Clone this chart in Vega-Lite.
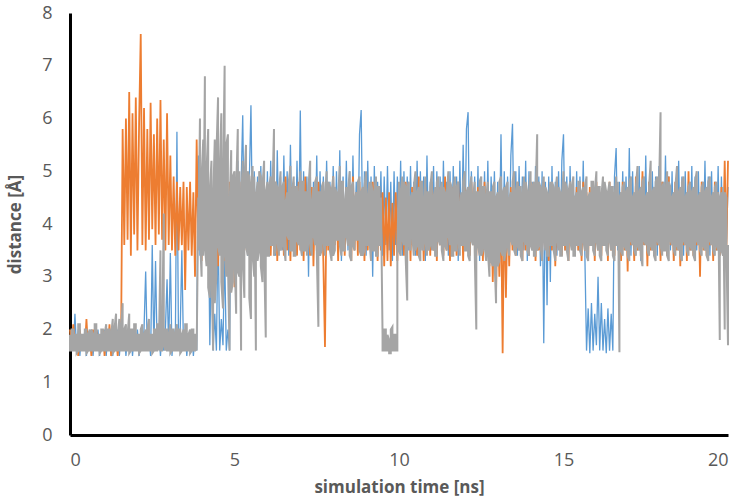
{
"$schema": "https://vega.github.io/schema/vega-lite/v6.json",
"width": 658, "height": 422,
"autosize": {"type": "none"},
"padding": {"left": 70, "top": 13, "right": 15, "bottom": 67},
"config": {"view": {"stroke": null},
 "axis": {"grid": false, "ticks": false, "domainColor": "black", "domainWidth": 3,
  "labelFont": "Open Sans", "labelFontSize": 18, "labelColor": "#595959",
  "titleFont": "Open Sans", "titleFontSize": 17, "titleColor": "#595959", "titleFontWeight": "bold"}},
"data": {"values": [
{"t":0,"b":1.6,"o":2.0,"g":1.9,"h":1.6},{"t":0.05,"b":2.0,"o":1.6,"g":1.6,"h":2.0},{"t":0.1,"b":1.6,"o":2.1,"g":2.0,"h":1.6},{"t":0.15,"b":2.3,"o":1.6,"g":1.6,"h":1.9},
{"t":0.2,"b":1.6,"o":1.9,"g":1.9,"h":1.55},{"t":0.25,"b":2.0,"o":1.5,"g":1.6,"h":2.1},{"t":0.3,"b":1.5,"o":2.0,"g":2.1,"h":1.6},{"t":0.35,"b":1.9,"o":1.6,"g":1.6,"h":1.9},
{"t":0.4,"b":1.6,"o":1.9,"g":1.9,"h":1.6},{"t":0.45,"b":2.0,"o":1.6,"g":1.6,"h":2.0},{"t":0.5,"b":1.5,"o":2.2,"g":2.0,"h":1.55},{"t":0.55,"b":1.9,"o":1.6,"g":1.6,"h":1.9},
{"t":0.6,"b":1.6,"o":1.9,"g":2.0,"h":1.6},{"t":0.65,"b":2.0,"o":1.5,"g":1.6,"h":2.0},{"t":0.7,"b":1.5,"o":2.0,"g":1.9,"h":1.6},{"t":0.75,"b":1.9,"o":1.6,"g":1.6,"h":2.1},
{"t":0.8,"b":1.6,"o":2.0,"g":2.1,"h":1.6},{"t":0.85,"b":2.0,"o":1.6,"g":1.6,"h":1.9},{"t":0.9,"b":1.5,"o":1.9,"g":1.9,"h":1.55},{"t":0.95,"b":1.9,"o":1.6,"g":1.6,"h":2.0},
{"t":1.0,"b":1.6,"o":2.0,"g":2.0,"h":1.6},{"t":1.05,"b":2.0,"o":1.5,"g":1.6,"h":1.9},{"t":1.1,"b":1.5,"o":2.0,"g":2.1,"h":1.6},{"t":1.15,"b":1.9,"o":1.6,"g":1.6,"h":2.0},
{"t":1.2,"b":1.6,"o":2.1,"g":2.0,"h":1.6},{"t":1.25,"b":2.0,"o":1.5,"g":1.6,"h":1.9},{"t":1.3,"b":1.5,"o":2.0,"g":2.2,"h":1.55},{"t":1.35,"b":1.9,"o":1.6,"g":1.6,"h":2.0},
{"t":1.4,"b":1.6,"o":1.9,"g":2.3,"h":1.6},{"t":1.45,"b":2.0,"o":1.5,"g":1.6,"h":1.9},{"t":1.5,"b":1.5,"o":2.0,"g":2.2,"h":1.6},{"t":1.55,"b":1.9,"o":1.6,"g":1.6,"h":2.0},
{"t":1.6,"b":1.6,"o":5.8,"g":2.5,"h":1.6},{"t":1.65,"b":2.0,"o":3.6,"g":1.6,"h":2.0},{"t":1.7,"b":1.5,"o":6.0,"g":2.1,"h":1.6},{"t":1.75,"b":1.9,"o":3.7,"g":1.6,"h":1.9},
{"t":1.8,"b":1.6,"o":6.5,"g":2.3,"h":1.55},{"t":1.85,"b":2.0,"o":3.4,"g":1.6,"h":2.0},{"t":1.9,"b":1.5,"o":6.1,"g":2.0,"h":1.6},{"t":1.95,"b":1.9,"o":3.8,"g":1.6,"h":2.1},
{"t":2.0,"b":1.6,"o":6.4,"g":2.1,"h":1.6},{"t":2.05,"b":2.0,"o":3.5,"g":1.6,"h":1.9},{"t":2.1,"b":1.5,"o":5.9,"g":1.9,"h":1.55},{"t":2.15,"b":1.9,"o":7.6,"g":1.6,"h":2.0},
{"t":2.2,"b":1.6,"o":3.6,"g":2.1,"h":1.6},{"t":2.25,"b":2.0,"o":6.2,"g":1.6,"h":1.9},{"t":2.3,"b":3.1,"o":3.5,"g":2.0,"h":1.6},{"t":2.35,"b":1.6,"o":5.8,"g":1.6,"h":2.0},
{"t":2.4,"b":1.9,"o":3.7,"g":2.2,"h":1.6},{"t":2.45,"b":1.5,"o":6.3,"g":1.6,"h":1.9},{"t":2.5,"b":3.6,"o":3.9,"g":1.9,"h":1.55},{"t":2.55,"b":1.6,"o":5.7,"g":1.6,"h":2.0},
{"t":2.6,"b":3.3,"o":3.6,"g":2.0,"h":1.6},{"t":2.65,"b":1.6,"o":6.0,"g":1.6,"h":2.1},{"t":2.7,"b":2.0,"o":3.8,"g":2.1,"h":1.6},{"t":2.75,"b":1.5,"o":6.35,"g":3.5,"h":1.6},
{"t":2.8,"b":2.0,"o":3.7,"g":1.6,"h":1.9},{"t":2.85,"b":1.6,"o":5.6,"g":4.2,"h":1.7},{"t":2.9,"b":2.0,"o":3.5,"g":1.6,"h":2.0},{"t":2.95,"b":2.95,"o":6.1,"g":2.0,"h":1.6},
{"t":3.0,"b":1.6,"o":3.6,"g":1.6,"h":1.9},{"t":3.05,"b":3.45,"o":5.3,"g":2.1,"h":1.55},{"t":3.1,"b":1.5,"o":3.5,"g":1.6,"h":2.0},{"t":3.15,"b":2.0,"o":4.9,"g":2.0,"h":1.6},
{"t":3.2,"b":1.6,"o":3.4,"g":1.6,"h":1.9},{"t":3.25,"b":5.75,"o":4.8,"g":2.1,"h":1.6},{"t":3.3,"b":1.6,"o":3.5,"g":1.6,"h":2.0},{"t":3.35,"b":2.0,"o":4.7,"g":2.0,"h":1.55},
{"t":3.4,"b":3.5,"o":3.6,"g":1.6,"h":1.9},{"t":3.45,"b":1.6,"o":4.8,"g":2.0,"h":1.6},{"t":3.5,"b":2.0,"o":2.75,"g":1.6,"h":2.1},{"t":3.55,"b":1.5,"o":4.7,"g":2.1,"h":1.6},
{"t":3.6,"b":1.9,"o":3.5,"g":1.6,"h":1.9},{"t":3.65,"b":1.6,"o":4.8,"g":2.0,"h":1.55},{"t":3.7,"b":2.0,"o":3.4,"g":1.6,"h":2.0},{"t":3.75,"b":1.5,"o":4.6,"g":2.0,"h":1.6},
{"t":3.8,"b":1.9,"o":3.0,"g":1.6,"h":1.9},{"t":3.85,"b":1.6,"o":5.6,"g":1.9,"h":1.6},
{"t":3.9,"b":5.3,"o":3.6,"g":4.5,"h":3.5},{"t":3.95,"b":3.4,"o":4.8,"g":6.0,"h":3.8},{"t":4.0,"b":4.8,"o":3.3,"g":3.0,"h":4.9},{"t":4.05,"b":3.5,"o":4.6,"g":5.6,"h":3.4},
{"t":4.1,"b":5.1,"o":3.5,"g":6.8,"h":3.6},{"t":4.15,"b":3.6,"o":4.9,"g":3.2,"h":5.0},{"t":4.2,"b":4.6,"o":3.4,"g":5.8,"h":2.8},{"t":4.25,"b":1.7,"o":4.7,"g":2.6,"h":4.6},
{"t":4.3,"b":3.6,"o":3.3,"g":5.2,"h":3.2},{"t":4.35,"b":1.6,"o":4.5,"g":1.6,"h":4.4},{"t":4.4,"b":2.3,"o":3.6,"g":5.6,"h":2.5},{"t":4.45,"b":1.6,"o":5.0,"g":3.0,"h":5.3},
{"t":4.5,"b":4.0,"o":3.2,"g":6.4,"h":3.6},{"t":4.55,"b":1.6,"o":4.6,"g":3.4,"h":5.0},{"t":4.6,"b":2.2,"o":3.5,"g":6.1,"h":2.9},{"t":4.65,"b":1.7,"o":4.7,"g":2.4,"h":4.7},
{"t":4.7,"b":3.5,"o":3.3,"g":7.0,"h":3.5},{"t":4.75,"b":1.6,"o":4.4,"g":3.0,"h":5.5},{"t":4.8,"b":2.0,"o":3.6,"g":5.7,"h":3.3},{"t":4.85,"b":1.6,"o":4.8,"g":1.6,"h":4.3},
{"t":4.9,"b":5.0,"o":3.4,"g":5.4,"h":2.7},{"t":4.95,"b":3.5,"o":4.6,"g":2.9,"h":4.9},{"t":5.0,"b":4.9,"o":2.8,"g":5.0,"h":3.4},{"t":5.05,"b":3.4,"o":4.5,"g":2.3,"h":4.6},
{"t":5.1,"b":5.2,"o":3.5,"g":5.8,"h":3.1},{"t":5.15,"b":3.6,"o":4.8,"g":3.0,"h":5.0},{"t":5.2,"b":4.7,"o":3.3,"g":1.6,"h":4.4},{"t":5.25,"b":6.06,"o":4.6,"g":5.2,"h":3.3},
{"t":5.3,"b":3.6,"o":3.5,"g":2.6,"h":4.8},{"t":5.35,"b":5.0,"o":4.9,"g":5.5,"h":3.6},{"t":5.4,"b":3.4,"o":3.6,"g":3.4,"h":5.0},{"t":5.45,"b":4.8,"o":4.5,"g":4.9,"h":2.6},
{"t":5.5,"b":6.25,"o":3.4,"g":2.2,"h":4.7},{"t":5.55,"b":3.7,"o":4.7,"g":5.1,"h":3.4},{"t":5.6,"b":5.0,"o":3.5,"g":3.0,"h":4.9},{"t":5.65,"b":3.5,"o":4.6,"g":1.6,"h":4.5},
{"t":5.7,"b":4.9,"o":3.4,"g":4.8,"h":3.3},{"t":5.75,"b":3.6,"o":4.8,"g":3.5,"h":5.0},{"t":5.8,"b":5.1,"o":3.5,"g":4.9,"h":3.2},{"t":5.85,"b":3.4,"o":4.6,"g":2.9,"h":4.7},
{"t":5.9,"b":4.8,"o":3.6,"g":5.2,"h":3.5},{"t":5.95,"b":3.6,"o":4.5,"g":1.85,"h":4.6},{"t":6.0,"b":5.0,"o":3.5,"g":4.8,"h":3.4},
{"t":6.05,"b":3.5,"o":4.7,"g":3.4,"h":4.7},{"t":6.1,"b":5.2,"o":3.4,"g":4.9,"h":3.6},{"t":6.15,"b":3.6,"o":4.5,"g":3.6,"h":4.5},{"t":6.2,"b":5.0,"o":3.5,"g":5.8,"h":3.4},
{"t":6.25,"b":3.4,"o":4.8,"g":3.5,"h":4.8},{"t":6.3,"b":5.4,"o":3.3,"g":4.7,"h":3.7},{"t":6.35,"b":3.7,"o":4.6,"g":3.4,"h":4.6},{"t":6.4,"b":4.9,"o":3.6,"g":5.0,"h":3.5},
{"t":6.45,"b":3.5,"o":4.4,"g":3.6,"h":4.7},{"t":6.5,"b":5.3,"o":3.4,"g":4.8,"h":3.6},{"t":6.55,"b":3.6,"o":4.9,"g":3.3,"h":4.4},{"t":6.6,"b":5.0,"o":3.5,"g":4.6,"h":3.8},
{"t":6.65,"b":3.4,"o":4.6,"g":3.7,"h":4.8},{"t":6.7,"b":5.5,"o":3.3,"g":5.1,"h":3.5},{"t":6.75,"b":3.7,"o":4.7,"g":3.5,"h":4.6},{"t":6.8,"b":4.8,"o":3.6,"g":4.9,"h":3.4},
{"t":6.85,"b":3.5,"o":4.5,"g":3.4,"h":4.7},{"t":6.9,"b":5.2,"o":3.4,"g":4.7,"h":3.7},{"t":6.95,"b":3.6,"o":4.8,"g":3.6,"h":4.5},{"t":7.0,"b":6.15,"o":3.5,"g":5.0,"h":3.6},
{"t":7.05,"b":3.4,"o":4.6,"g":3.4,"h":4.8},{"t":7.1,"b":5.0,"o":3.3,"g":4.8,"h":3.5},{"t":7.15,"b":3.7,"o":4.9,"g":3.5,"h":4.6},{"t":7.2,"b":4.9,"o":3.6,"g":4.6,"h":3.4},
{"t":7.25,"b":3.0,"o":4.5,"g":3.7,"h":4.7},{"t":7.3,"b":5.1,"o":3.4,"g":5.2,"h":3.6},{"t":7.35,"b":3.5,"o":4.7,"g":3.4,"h":4.4},{"t":7.4,"b":4.8,"o":3.2,"g":4.7,"h":3.8},
{"t":7.45,"b":3.6,"o":4.6,"g":3.6,"h":4.8},{"t":7.5,"b":5.3,"o":3.5,"g":4.9,"h":3.5},{"t":7.55,"b":3.4,"o":4.8,"g":2.05,"h":4.6},{"t":7.6,"b":5.0,"o":3.4,"g":4.6,"h":3.4},
{"t":7.65,"b":3.6,"o":4.5,"g":3.5,"h":4.7},{"t":7.7,"b":4.9,"o":3.3,"g":4.8,"h":3.7},{"t":7.75,"b":3.5,"o":1.67,"g":3.4,"h":4.5},{"t":7.8,"b":5.2,"o":4.6,"g":5.0,"h":3.6},
{"t":7.85,"b":3.7,"o":3.5,"g":3.6,"h":4.8},{"t":7.9,"b":4.8,"o":4.7,"g":4.7,"h":3.5},{"t":7.95,"b":3.4,"o":3.4,"g":3.3,"h":4.6},{"t":8.0,"b":5.1,"o":4.9,"g":4.9,"h":3.4},
{"t":8.05,"b":3.6,"o":3.6,"g":3.5,"h":4.7},{"t":8.1,"b":5.0,"o":4.5,"g":4.6,"h":3.7},{"t":8.15,"b":3.5,"o":3.3,"g":3.7,"h":4.5},{"t":8.2,"b":5.4,"o":4.8,"g":5.1,"h":3.6},
{"t":8.25,"b":3.3,"o":3.5,"g":3.4,"h":4.8},{"t":8.3,"b":4.9,"o":4.6,"g":4.8,"h":3.5},{"t":8.35,"b":3.6,"o":3.4,"g":3.5,"h":4.4},{"t":8.4,"b":5.2,"o":4.7,"g":4.7,"h":3.8},
{"t":8.45,"b":3.5,"o":3.6,"g":3.6,"h":4.6},{"t":8.5,"b":5.0,"o":4.4,"g":5.0,"h":3.4},{"t":8.55,"b":3.4,"o":3.3,"g":3.3,"h":4.7},{"t":8.6,"b":5.3,"o":4.9,"g":4.8,"h":3.6},
{"t":8.65,"b":3.7,"o":3.5,"g":3.5,"h":4.5},{"t":8.7,"b":4.8,"o":4.6,"g":4.6,"h":3.7},{"t":8.75,"b":3.5,"o":3.4,"g":3.7,"h":4.8},{"t":8.8,"b":5.7,"o":4.8,"g":4.9,"h":3.5},
{"t":8.85,"b":6.16,"o":3.6,"g":3.4,"h":4.6},{"t":8.9,"b":3.6,"o":4.5,"g":4.7,"h":3.4},{"t":8.95,"b":5.0,"o":3.3,"g":3.5,"h":4.7},{"t":9.0,"b":3.4,"o":4.7,"g":5.0,"h":3.6},
{"t":9.05,"b":5.2,"o":3.5,"g":3.6,"h":4.5},{"t":9.1,"b":3.6,"o":4.6,"g":4.8,"h":3.7},{"t":9.15,"b":4.9,"o":3.4,"g":3.3,"h":4.8},{"t":9.2,"b":3.0,"o":4.8,"g":4.6,"h":3.5},
{"t":9.25,"b":5.1,"o":3.6,"g":3.5,"h":4.6},{"t":9.3,"b":3.5,"o":4.5,"g":4.9,"h":3.4},{"t":9.35,"b":4.8,"o":3.3,"g":3.4,"h":4.7},{"t":9.4,"b":3.7,"o":4.7,"g":4.7,"h":3.6},
{"t":9.45,"b":5.0,"o":3.5,"g":3.6,"h":4.5},{"t":9.5,"b":3.4,"o":4.6,"g":1.9,"h":1.6},{"t":9.55,"b":4.9,"o":3.2,"g":1.6,"h":2.0},{"t":9.6,"b":3.6,"o":4.5,"g":2.0,"h":1.6},
{"t":9.65,"b":5.1,"o":3.3,"g":1.6,"h":1.9},{"t":9.7,"b":3.5,"o":4.6,"g":1.8,"h":1.55},{"t":9.75,"b":4.8,"o":3.2,"g":1.55,"h":2.0},{"t":9.8,"b":3.3,"o":4.4,"g":2.05,"h":1.6},
{"t":9.85,"b":5.0,"o":3.4,"g":1.6,"h":1.9},{"t":9.9,"b":3.6,"o":4.6,"g":1.9,"h":1.6},{"t":9.95,"b":4.9,"o":3.3,"g":1.6,"h":3.6},{"t":10.0,"b":3.5,"o":4.7,"g":4.8,"h":3.5},
{"t":10.05,"b":5.2,"o":3.5,"g":3.4,"h":4.6},{"t":10.1,"b":3.4,"o":4.6,"g":4.9,"h":3.7},{"t":10.15,"b":5.0,"o":3.4,"g":3.6,"h":4.8},{"t":10.2,"b":3.7,"o":4.8,"g":4.7,"h":3.4},
{"t":10.25,"b":4.9,"o":3.5,"g":2.55,"h":4.7},{"t":10.3,"b":3.5,"o":4.5,"g":4.8,"h":3.6},{"t":10.35,"b":5.1,"o":3.3,"g":3.5,"h":4.5},{"t":10.4,"b":3.6,"o":4.7,"g":4.6,"h":3.8},
{"t":10.45,"b":4.8,"o":3.6,"g":3.4,"h":4.7},{"t":10.5,"b":3.4,"o":4.6,"g":5.0,"h":3.5},{"t":10.55,"b":5.2,"o":3.4,"g":3.6,"h":4.6},{"t":10.6,"b":3.6,"o":4.9,"g":4.7,"h":3.4},
{"t":10.65,"b":5.0,"o":3.5,"g":3.3,"h":4.8},{"t":10.7,"b":3.5,"o":4.5,"g":4.8,"h":3.6},{"t":10.75,"b":4.9,"o":3.3,"g":3.5,"h":4.4},{"t":10.8,"b":3.3,"o":4.7,"g":4.9,"h":3.7},
{"t":10.85,"b":5.3,"o":3.6,"g":3.4,"h":4.6},{"t":10.9,"b":3.6,"o":4.6,"g":4.6,"h":3.5},{"t":10.95,"b":4.8,"o":3.4,"g":3.6,"h":4.7},{"t":11.0,"b":3.5,"o":4.8,"g":5.0,"h":3.6},
{"t":11.05,"b":5.1,"o":3.5,"g":3.5,"h":4.5},{"t":11.1,"b":3.4,"o":4.5,"g":4.7,"h":3.4},{"t":11.15,"b":5.0,"o":3.3,"g":3.4,"h":4.8},{"t":11.2,"b":3.7,"o":4.7,"g":4.9,"h":3.7},
{"t":11.25,"b":4.9,"o":3.6,"g":3.6,"h":4.6},{"t":11.3,"b":3.5,"o":4.6,"g":4.8,"h":3.5},{"t":11.35,"b":5.2,"o":3.4,"g":3.3,"h":4.7},{"t":11.4,"b":3.6,"o":4.9,"g":4.6,"h":3.6},
{"t":11.45,"b":4.8,"o":3.5,"g":3.5,"h":4.5},{"t":11.5,"b":3.4,"o":4.5,"g":5.0,"h":3.8},{"t":11.55,"b":5.0,"o":3.3,"g":3.6,"h":4.8},{"t":11.6,"b":3.6,"o":4.7,"g":4.7,"h":3.4},
{"t":11.65,"b":5.1,"o":3.5,"g":3.4,"h":4.6},{"t":11.7,"b":3.5,"o":4.6,"g":4.9,"h":3.5},{"t":11.75,"b":4.9,"o":3.4,"g":3.5,"h":4.7},{"t":11.8,"b":3.3,"o":4.8,"g":4.8,"h":3.7},
{"t":11.85,"b":5.2,"o":3.6,"g":3.4,"h":4.4},{"t":11.9,"b":3.6,"o":4.5,"g":4.6,"h":3.6},{"t":11.95,"b":5.5,"o":3.3,"g":3.6,"h":4.8},{"t":12.0,"b":3.5,"o":4.7,"g":5.0,"h":3.5},
{"t":12.05,"b":5.8,"o":3.5,"g":3.5,"h":4.6},{"t":12.1,"b":6.12,"o":4.6,"g":4.7,"h":3.4},{"t":12.15,"b":3.4,"o":3.4,"g":3.3,"h":4.7},{"t":12.2,"b":5.0,"o":4.8,"g":4.9,"h":3.7},
{"t":12.25,"b":3.6,"o":3.6,"g":3.6,"h":4.5},{"t":12.3,"b":4.9,"o":4.5,"g":4.8,"h":3.5},{"t":12.35,"b":3.5,"o":3.4,"g":2.0,"h":4.6},{"t":12.4,"b":5.1,"o":4.7,"g":4.6,"h":3.6},
{"t":12.45,"b":3.3,"o":3.5,"g":3.4,"h":4.8},{"t":12.5,"b":4.8,"o":4.6,"g":4.9,"h":3.4},{"t":12.55,"b":3.6,"o":3.3,"g":3.5,"h":4.7},{"t":12.6,"b":5.0,"o":4.8,"g":4.7,"h":3.6},
{"t":12.65,"b":3.4,"o":3.5,"g":3.3,"h":4.5},{"t":12.7,"b":5.2,"o":4.6,"g":4.8,"h":3.5},{"t":12.75,"b":3.5,"o":3.2,"g":3.0,"h":4.6},{"t":12.8,"b":4.9,"o":4.5,"g":4.6,"h":3.3},
{"t":12.85,"b":3.7,"o":2.9,"g":3.2,"h":4.7},{"t":12.9,"b":5.0,"o":4.4,"g":4.8,"h":3.4},{"t":12.95,"b":3.3,"o":2.7,"g":2.5,"h":4.5},{"t":13.0,"b":4.8,"o":4.3,"g":4.6,"h":3.2},
{"t":13.05,"b":3.5,"o":3.0,"g":3.3,"h":4.8},{"t":13.1,"b":5.7,"o":4.5,"g":4.9,"h":3.5},{"t":13.15,"b":3.4,"o":1.55,"g":3.4,"h":4.6},{"t":13.2,"b":5.0,"o":4.6,"g":4.7,"h":3.3},
{"t":13.25,"b":3.3,"o":2.6,"g":3.5,"h":4.7},{"t":13.3,"b":4.9,"o":4.4,"g":4.8,"h":3.6},{"t":13.35,"b":3.6,"o":3.2,"g":3.4,"h":4.5},{"t":13.4,"b":5.3,"o":4.7,"g":4.6,"h":3.7},
{"t":13.45,"b":5.9,"o":3.5,"g":3.6,"h":4.8},{"t":13.5,"b":3.5,"o":4.6,"g":5.0,"h":3.5},{"t":13.55,"b":5.0,"o":3.4,"g":3.4,"h":4.6},{"t":13.6,"b":3.4,"o":4.8,"g":4.8,"h":3.6},
{"t":13.65,"b":5.1,"o":3.6,"g":3.5,"h":4.7},{"t":13.7,"b":3.6,"o":4.5,"g":4.7,"h":3.4},{"t":13.75,"b":4.9,"o":3.3,"g":3.3,"h":4.5},{"t":13.8,"b":3.5,"o":4.7,"g":4.9,"h":3.7},
{"t":13.85,"b":5.2,"o":3.5,"g":3.6,"h":4.8},{"t":13.9,"b":3.3,"o":4.6,"g":4.6,"h":3.5},{"t":13.95,"b":5.0,"o":3.4,"g":3.4,"h":4.6},{"t":14.0,"b":3.6,"o":4.8,"g":5.0,"h":3.6},
{"t":14.05,"b":4.8,"o":3.6,"g":3.5,"h":4.7},{"t":14.1,"b":3.4,"o":4.5,"g":4.8,"h":3.4},{"t":14.15,"b":5.1,"o":3.3,"g":3.4,"h":4.5},{"t":14.2,"b":3.5,"o":4.7,"g":5.7,"h":3.5},
{"t":14.25,"b":4.9,"o":3.5,"g":3.6,"h":4.8},{"t":14.3,"b":3.2,"o":4.6,"g":4.7,"h":3.6},{"t":14.35,"b":5.0,"o":3.4,"g":3.3,"h":4.6},{"t":14.4,"b":1.74,"o":4.8,"g":4.9,"h":3.7},
{"t":14.45,"b":4.8,"o":3.6,"g":3.5,"h":4.7},{"t":14.5,"b":2.46,"o":4.5,"g":4.6,"h":3.4},{"t":14.55,"b":4.9,"o":3.3,"g":3.4,"h":4.5},{"t":14.6,"b":2.9,"o":4.7,"g":4.8,"h":3.6},
{"t":14.65,"b":5.1,"o":3.5,"g":3.6,"h":4.8},{"t":14.7,"b":3.5,"o":4.6,"g":4.7,"h":3.5},{"t":14.75,"b":4.8,"o":3.2,"g":3.3,"h":4.6},{"t":14.8,"b":3.4,"o":4.8,"g":4.9,"h":3.7},
{"t":14.85,"b":5.0,"o":3.6,"g":3.5,"h":4.7},{"t":14.9,"b":3.6,"o":4.5,"g":4.6,"h":3.4},{"t":14.95,"b":5.2,"o":3.4,"g":3.4,"h":4.5},{"t":15.0,"b":5.7,"o":4.7,"g":5.0,"h":3.6},
{"t":15.05,"b":3.5,"o":3.5,"g":3.6,"h":4.8},{"t":15.1,"b":4.9,"o":4.6,"g":4.7,"h":3.5},{"t":15.15,"b":3.3,"o":3.3,"g":3.3,"h":4.6},{"t":15.2,"b":5.1,"o":4.8,"g":4.8,"h":3.7},
{"t":15.25,"b":3.6,"o":3.6,"g":3.5,"h":4.7},{"t":15.3,"b":4.8,"o":4.5,"g":4.9,"h":3.4},{"t":15.35,"b":3.4,"o":3.4,"g":3.4,"h":4.5},{"t":15.4,"b":5.0,"o":4.7,"g":4.6,"h":3.6},
{"t":15.45,"b":3.5,"o":3.5,"g":3.6,"h":4.8},{"t":15.5,"b":4.9,"o":4.6,"g":4.8,"h":3.5},{"t":15.55,"b":3.6,"o":3.3,"g":3.4,"h":4.6},{"t":15.6,"b":5.2,"o":4.8,"g":4.7,"h":3.7},
{"t":15.65,"b":3.4,"o":3.5,"g":3.5,"h":4.7},{"t":15.7,"b":1.6,"o":4.6,"g":4.9,"h":3.4},{"t":15.75,"b":2.4,"o":3.4,"g":3.3,"h":4.5},{"t":15.8,"b":1.55,"o":4.7,"g":4.6,"h":3.6},
{"t":15.85,"b":2.5,"o":3.6,"g":3.6,"h":4.8},{"t":15.9,"b":1.6,"o":4.5,"g":4.8,"h":3.5},{"t":15.95,"b":2.3,"o":3.3,"g":3.4,"h":4.6},{"t":16.0,"b":1.7,"o":4.8,"g":5.0,"h":3.7},
{"t":16.05,"b":3.0,"o":3.5,"g":3.5,"h":4.7},{"t":16.1,"b":1.6,"o":4.6,"g":4.7,"h":3.4},{"t":16.15,"b":2.5,"o":3.4,"g":3.3,"h":4.5},{"t":16.2,"b":1.6,"o":4.7,"g":4.9,"h":3.6},
{"t":16.25,"b":2.2,"o":3.6,"g":3.6,"h":4.8},{"t":16.3,"b":1.55,"o":4.5,"g":4.6,"h":3.5},{"t":16.35,"b":2.4,"o":3.3,"g":3.4,"h":4.6},{"t":16.4,"b":1.6,"o":4.8,"g":4.8,"h":3.7},
{"t":16.45,"b":2.3,"o":3.5,"g":3.5,"h":4.7},{"t":16.5,"b":1.6,"o":4.6,"g":4.7,"h":3.4},{"t":16.55,"b":4.9,"o":3.4,"g":3.3,"h":4.5},{"t":16.6,"b":5.44,"o":4.7,"g":4.9,"h":3.6},
{"t":16.65,"b":3.5,"o":3.6,"g":3.6,"h":4.8},{"t":16.7,"b":4.8,"o":4.5,"g":1.57,"h":4.5},{"t":16.75,"b":3.4,"o":3.3,"g":4.6,"h":3.5},{"t":16.8,"b":5.0,"o":4.8,"g":3.4,"h":4.7},
{"t":16.85,"b":3.6,"o":3.5,"g":4.8,"h":3.6},{"t":16.9,"b":4.9,"o":4.6,"g":3.5,"h":4.6},{"t":16.95,"b":3.5,"o":3.1,"g":4.7,"h":3.4},{"t":17.0,"b":5.44,"o":4.7,"g":3.3,"h":4.8},
{"t":17.05,"b":3.4,"o":3.6,"g":4.9,"h":3.7},{"t":17.1,"b":5.0,"o":4.4,"g":3.6,"h":4.5},{"t":17.15,"b":3.7,"o":3.3,"g":4.6,"h":3.5},{"t":17.2,"b":4.7,"o":4.9,"g":3.4,"h":4.7},
{"t":17.25,"b":3.5,"o":3.5,"g":5.1,"h":3.6},{"t":17.3,"b":5.1,"o":4.6,"g":3.5,"h":4.6},{"t":17.35,"b":3.3,"o":3.4,"g":4.7,"h":3.4},{"t":17.4,"b":4.9,"o":5.0,"g":3.2,"h":4.8},
{"t":17.45,"b":3.6,"o":3.6,"g":4.9,"h":3.7},{"t":17.5,"b":5.3,"o":4.5,"g":3.6,"h":4.5},{"t":17.55,"b":3.4,"o":3.2,"g":4.6,"h":3.5},{"t":17.6,"b":4.8,"o":4.8,"g":3.4,"h":4.7},
{"t":17.65,"b":3.6,"o":3.5,"g":5.2,"h":3.6},{"t":17.7,"b":5.0,"o":4.6,"g":3.5,"h":4.6},{"t":17.75,"b":3.5,"o":3.4,"g":4.7,"h":3.4},{"t":17.8,"b":4.9,"o":4.7,"g":3.3,"h":4.8},
{"t":17.85,"b":3.4,"o":3.6,"g":4.9,"h":3.7},{"t":17.9,"b":5.1,"o":4.5,"g":3.6,"h":4.5},{"t":17.95,"b":3.5,"o":3.3,"g":6.12,"h":3.6},{"t":18.0,"b":4.8,"o":4.8,"g":3.4,"h":4.7},
{"t":18.05,"b":3.6,"o":3.5,"g":4.8,"h":3.5},{"t":18.1,"b":5.3,"o":4.6,"g":3.5,"h":4.6},{"t":18.15,"b":3.4,"o":3.4,"g":5.0,"h":3.4},{"t":18.2,"b":4.9,"o":4.9,"g":3.3,"h":4.8},
{"t":18.25,"b":3.5,"o":3.6,"g":4.7,"h":3.7},{"t":18.3,"b":5.0,"o":4.5,"g":3.6,"h":4.5},{"t":18.35,"b":3.3,"o":3.3,"g":4.6,"h":3.5},{"t":18.4,"b":4.8,"o":4.8,"g":3.4,"h":4.7},
{"t":18.45,"b":3.6,"o":3.5,"g":5.1,"h":3.6},{"t":18.5,"b":5.2,"o":4.6,"g":3.5,"h":4.6},{"t":18.55,"b":3.5,"o":3.2,"g":4.7,"h":3.4},{"t":18.6,"b":4.9,"o":4.7,"g":3.3,"h":4.8},
{"t":18.65,"b":3.4,"o":3.6,"g":4.9,"h":3.7},{"t":18.7,"b":5.0,"o":4.5,"g":3.6,"h":4.5},{"t":18.75,"b":3.6,"o":3.3,"g":4.6,"h":3.5},{"t":18.8,"b":4.8,"o":5.0,"g":3.4,"h":4.7},
{"t":18.85,"b":3.5,"o":3.5,"g":4.8,"h":3.6},{"t":18.9,"b":5.1,"o":4.6,"g":3.5,"h":4.6},{"t":18.95,"b":3.4,"o":3.4,"g":4.7,"h":3.4},{"t":19.0,"b":4.9,"o":4.7,"g":3.3,"h":4.8},
{"t":19.05,"b":3.5,"o":3.6,"g":5.0,"h":3.7},{"t":19.1,"b":5.0,"o":4.5,"g":3.6,"h":4.5},{"t":19.15,"b":3.3,"o":3.0,"g":4.6,"h":3.5},{"t":19.2,"b":4.8,"o":4.8,"g":3.4,"h":4.7},
{"t":19.25,"b":3.6,"o":3.5,"g":4.8,"h":3.6},{"t":19.3,"b":5.2,"o":4.6,"g":3.5,"h":4.6},{"t":19.35,"b":3.5,"o":3.4,"g":4.7,"h":3.4},{"t":19.4,"b":4.9,"o":4.7,"g":3.3,"h":4.8},
{"t":19.45,"b":3.4,"o":3.6,"g":4.9,"h":3.7},{"t":19.5,"b":5.0,"o":4.5,"g":3.6,"h":4.5},{"t":19.55,"b":3.6,"o":3.3,"g":4.6,"h":3.5},{"t":19.6,"b":4.8,"o":4.8,"g":3.4,"h":4.7},
{"t":19.65,"b":3.5,"o":3.5,"g":4.8,"h":3.6},{"t":19.7,"b":5.1,"o":4.6,"g":3.5,"h":4.6},{"t":19.75,"b":3.4,"o":3.4,"g":1.8,"h":4.5},{"t":19.8,"b":4.9,"o":4.7,"g":4.6,"h":3.5},
{"t":19.85,"b":3.5,"o":3.6,"g":3.4,"h":4.7},{"t":19.9,"b":4.8,"o":5.2,"g":2.0,"h":4.6},{"t":19.95,"b":3.6,"o":3.5,"g":4.5,"h":3.6},{"t":20.0,"b":4.7,"o":5.2,"g":1.7,"h":3.6}
]},
"encoding": {
 "x": {"field": "t", "type": "quantitative", "title": "simulation time [ns]",
  "scale": {"domain": [0, 20], "nice": false},
  "axis": {"values": [0, 5, 10, 15, 20], "labelPadding": 16, "titlePadding": 10}}
},
"layer": [
 {"mark": {"type": "line", "color": "#5B9BD5", "strokeWidth": 1.3},
  "encoding": {"y": {"field": "b", "type": "quantitative", "title": "distance [Å]",
   "scale": {"domain": [0, 8], "nice": false},
   "axis": {"values": [0,1,2,3,4,5,6,7,8], "labelPadding": 18, "titlePadding": 17}}}},
 {"mark": {"type": "line", "color": "#ED7D31", "strokeWidth": 1.8},
  "encoding": {"y": {"field": "o", "type": "quantitative"}}},
 {"transform": [{"fold": ["g", "h"], "as": ["k", "gv"]}],
  "mark": {"type": "line", "color": "#A5A5A5", "strokeWidth": 2},
  "encoding": {"y": {"field": "gv", "type": "quantitative"}}}
]
}
